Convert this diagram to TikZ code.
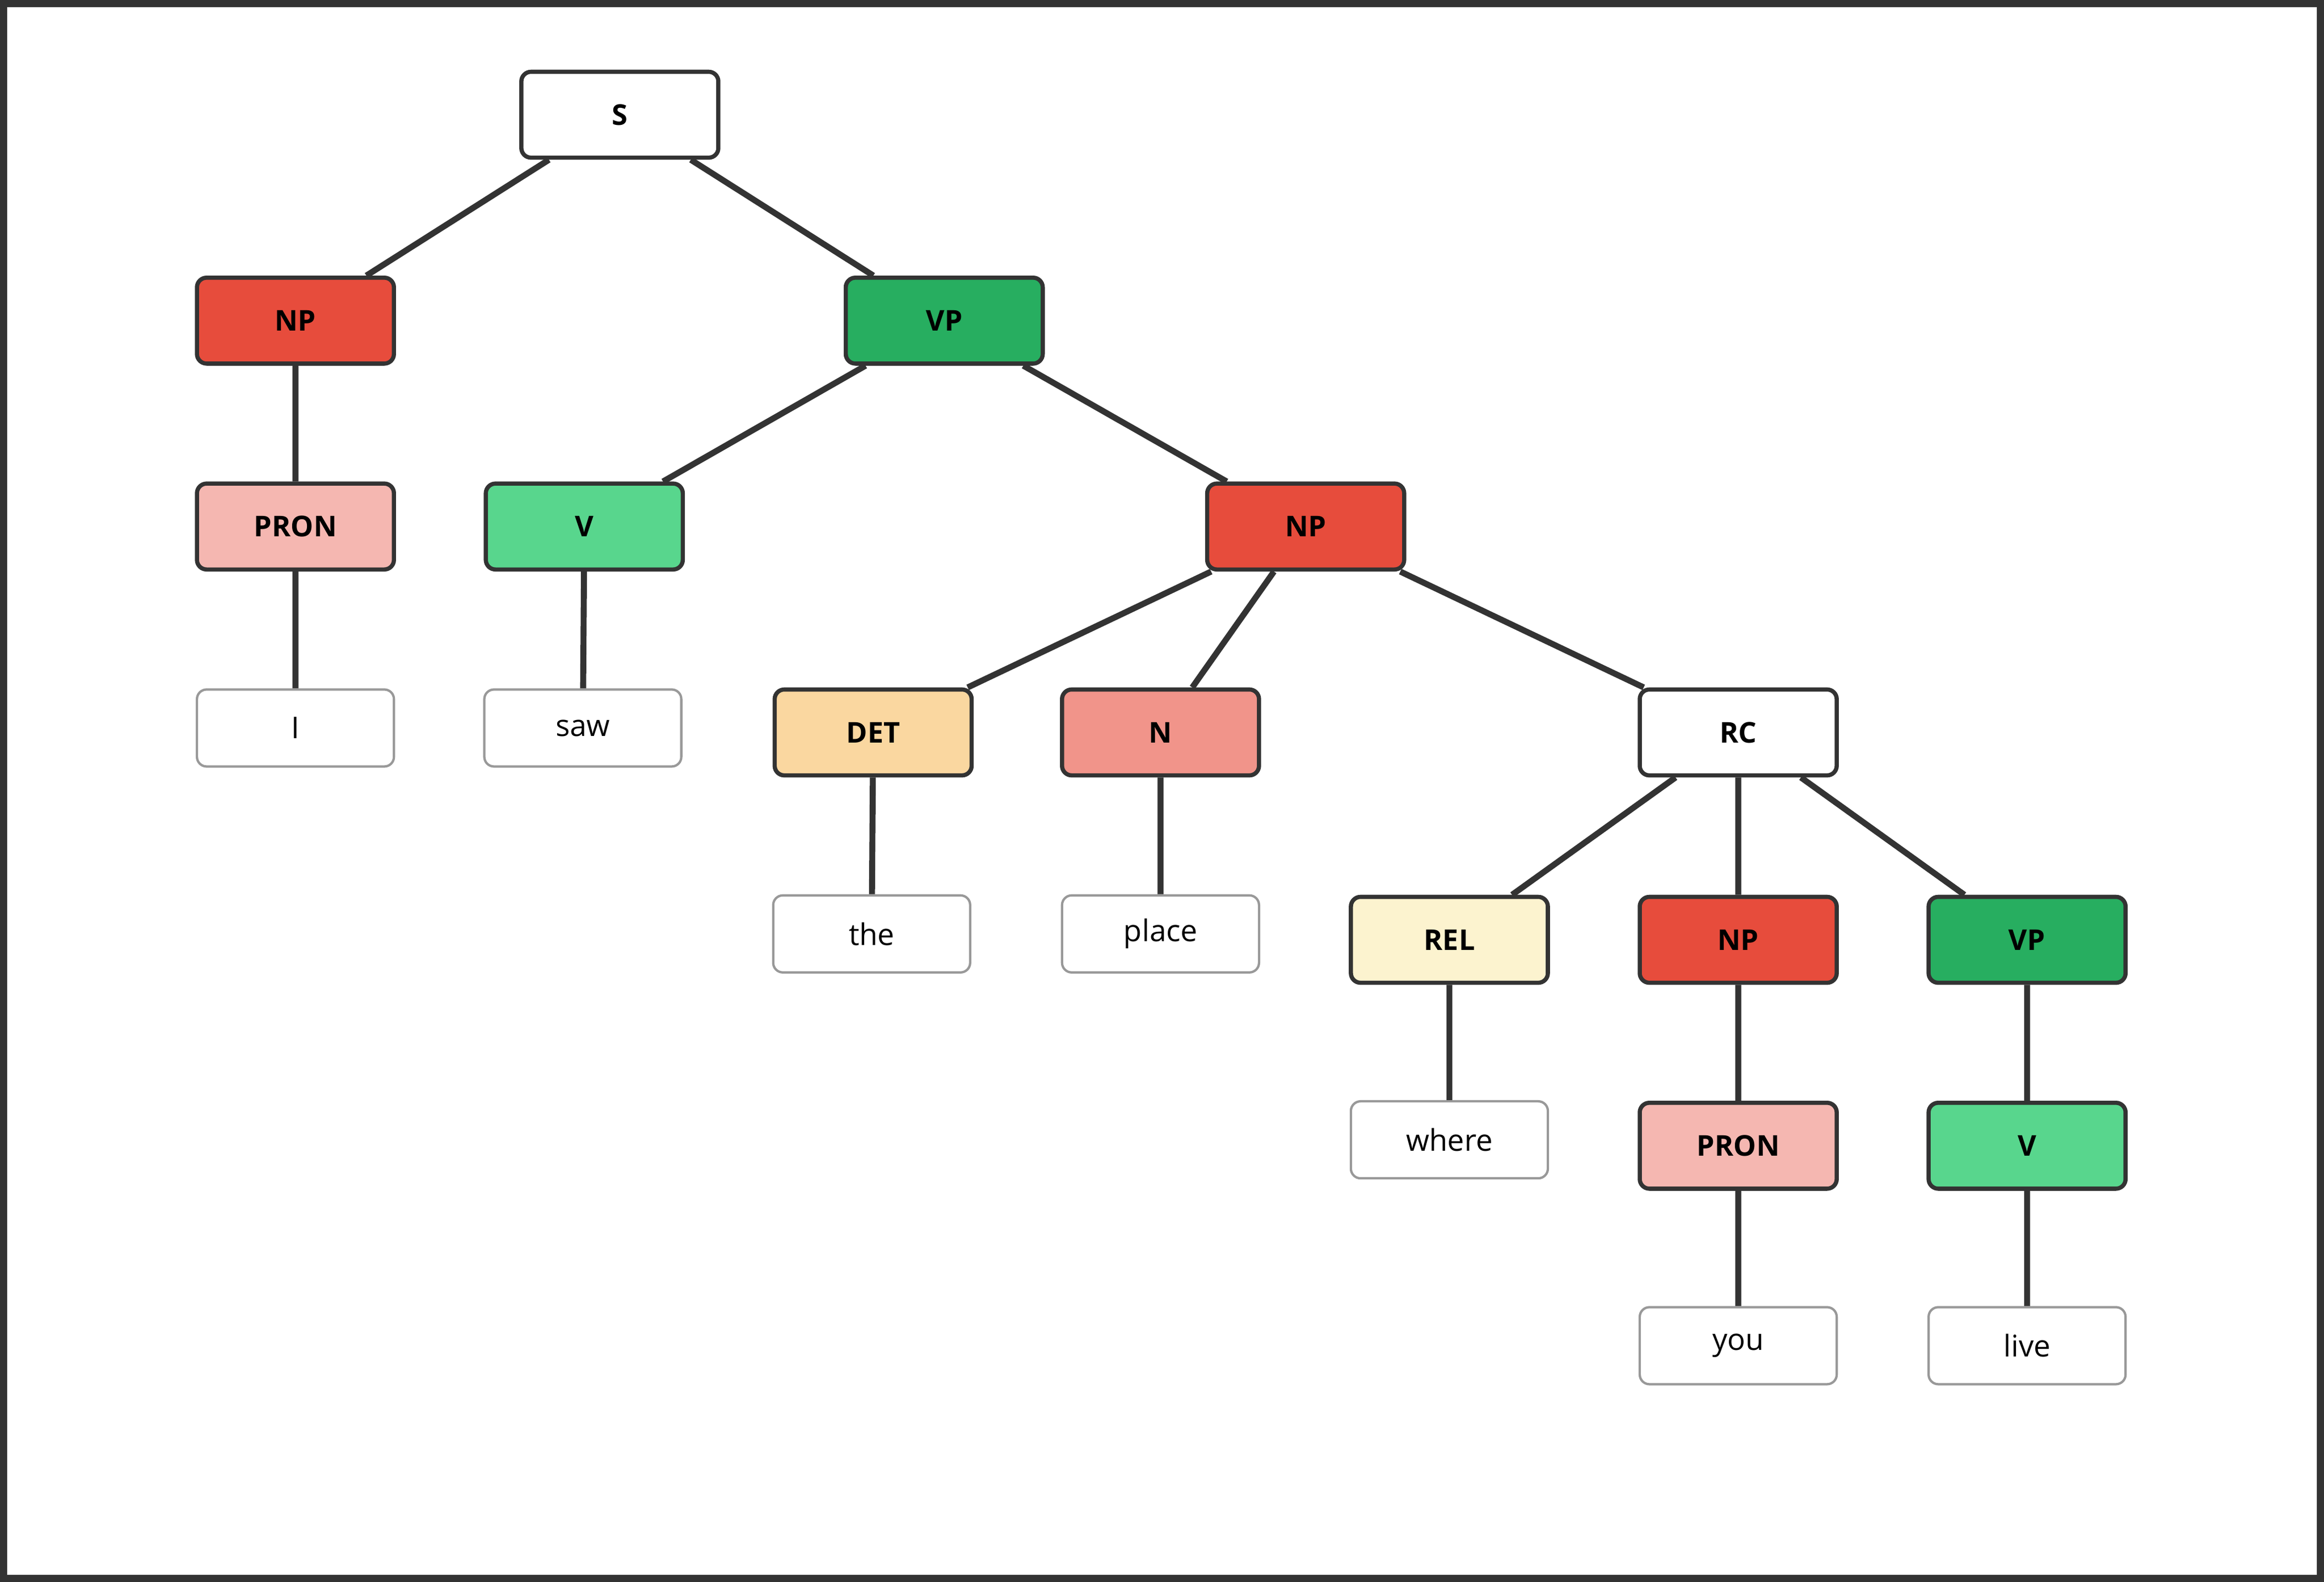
\documentclass[tikz,border=0pt]{standalone}
\usepackage{fontspec}
\setmainfont{Open Sans}
\begin{document}
\begin{tikzpicture}[x=0.02cm,y=-0.02cm,
 cat/.style={draw=black!80,line width=1.6pt,rounded corners=0.13cm,minimum width=2.66cm,minimum height=1.16cm,font=\fontsize{11}{13}\selectfont\bfseries,inner sep=0pt},
 word/.style={draw=black!40,line width=0.9pt,rounded corners=0.13cm,fill=white,minimum width=2.66cm,minimum height=1.04cm,font=\fontsize{11.5}{13}\selectfont,inner sep=0pt},
 edge/.style={draw=black!80,line width=2.3pt}]
\definecolor{npc}{HTML}{E74C3C}\definecolor{vpc}{HTML}{27AE60}\definecolor{vc}{HTML}{58D68D}
\definecolor{pronc}{HTML}{F5B7B1}\definecolor{detc}{HTML}{FAD7A0}\definecolor{nc}{HTML}{F1948A}\definecolor{relc}{HTML}{FCF3CF}
\draw[black!80,line width=2.8pt,fill=white] (2,2) rectangle (1566,1065);
\node[cat,fill=white] (s) at (418,77) {S};
\node[cat,fill=npc] (np1) at (199,216) {NP};
\node[cat,fill=vpc] (vp1) at (637,216) {VP};
\node[cat,fill=pronc] (pron1) at (199,355) {PRON};
\node[cat,fill=vc] (v1) at (394,355) {V};
\node[cat,fill=npc] (np2) at (881,355) {NP};
\node[word] (i) at (199,491) {I};
\node[word] (saw) at (393,491) {saw};
\node[cat,fill=detc] (det) at (589,494) {DET};
\node[cat,fill=nc] (n) at (783,494) {N};
\node[cat,fill=white] (rc) at (1173,494) {RC};
\node[word] (the) at (588,630) {the};
\node[word] (place) at (783,630) {place};
\node[cat,fill=relc] (rel) at (978,634) {REL};
\node[cat,fill=npc] (np3) at (1173,634) {NP};
\node[cat,fill=vpc] (vp3) at (1368,634) {VP};
\node[word] (where) at (978,769) {where};
\node[cat,fill=pronc] (pron2) at (1173,773) {PRON};
\node[cat,fill=vc] (v2) at (1368,773) {V};
\node[word] (you) at (1173,908) {you};
\node[word] (live) at (1368,908) {live};
\begin{scope}[on background layer/.style={}]
\end{scope}
\path[edge] (s) -- (np1) (s) -- (vp1) (np1) -- (pron1) (pron1) -- (i)
 (vp1) -- (v1) (vp1) -- (np2) (v1) -- (saw) (np2) -- (det) (np2) -- (n) (np2) -- (rc)
 (det) -- (the) (n) -- (place) (rc) -- (rel) (rc) -- (np3) (rc) -- (vp3)
 (rel) -- (where) (np3) -- (pron2) (vp3) -- (v2) (pron2) -- (you) (v2) -- (live);
\end{tikzpicture}
\end{document}
